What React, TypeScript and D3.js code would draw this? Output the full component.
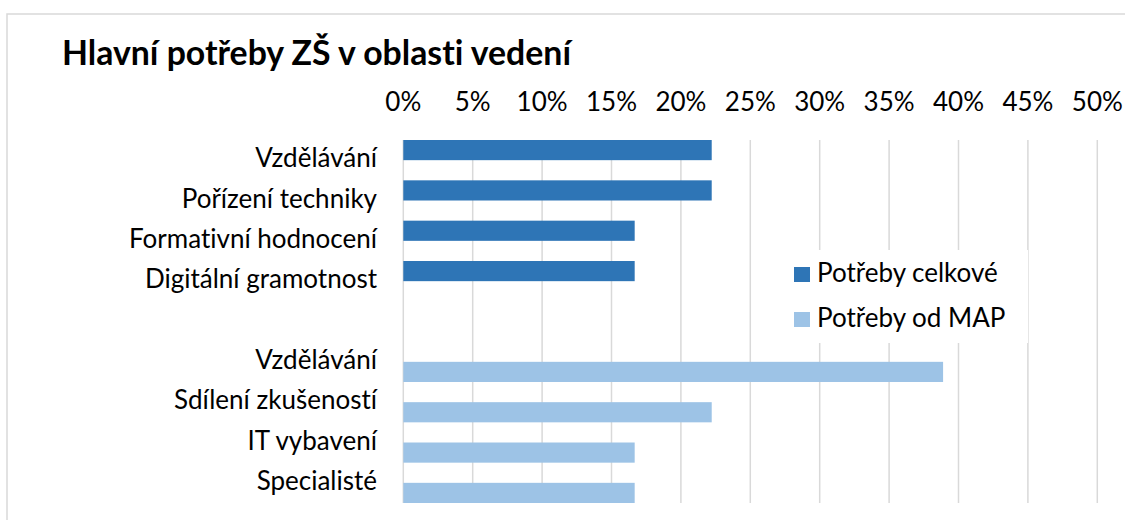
import React from "react";
import * as d3 from "d3";

const title = "Hlavní potřeby ZŠ v oblasti vedení";
const categories = [
  "Vzdělávání",
  "Pořízení techniky",
  "Formativní hodnocení",
  "Digitální gramotnost",
  "",
  "Vzdělávání",
  "Sdílení zkušeností",
  "IT vybavení",
  "Specialisté",
];
const seriesNames = ["Potřeby celkové", "Potřeby od MAP"];
const celkove = [0.2222, 0.2222, 0.1667, 0.1667, null, null, null, null, null];
const odMAP = [null, null, null, null, null, 0.3889, 0.2222, 0.1667, 0.1667];
const tickValues = [0, 0.05, 0.1, 0.15, 0.2, 0.25, 0.3, 0.35, 0.4, 0.45, 0.5];

const colors = ["#2E75B6", "#9DC3E6"];
const FONT = "Lato, 'Noto Sans', sans-serif";

export default function App() {
  const W = 1125;
  const H = 520;
  const x = d3.scaleLinear().domain([0, 0.5]).range([403.3, 1097.3]);
  const y = d3
    .scaleBand<number>()
    .domain(categories.map((_, i) => i))
    .range([140, 503])
    .paddingInner(0)
    .paddingOuter(0);
  const bw = y.bandwidth();
  const ySub = d3.scaleBand<number>().domain([0, 1]).range([0, bw]);
  const series = [celkove, odMAP];
  const fmt = d3.format(".0%");

  return (
    <svg
      width={W}
      height={H}
      style={{
        position: "absolute",
        left: 0,
        top: 0,
        background: "#fff",
        fontVariantLigatures: "none",
        fontFeatureSettings: '"liga" 0, "clig" 0',
      }}
      fontFamily={FONT}
    >
      <rect x={0} y={0} width={W} height={H} fill="#fff" />
      <rect
        x={7}
        y={14}
        width={1300}
        height={700}
        fill="#fff"
        stroke="#d9d9d9"
        strokeWidth={1.5}
      />
      <text x={62} y={65} fontSize={33.8} fontWeight={700} fill="#000">
        {title}
      </text>
      {/* gridlines */}
      {tickValues.map((t) => (
        <line
          key={"g" + t}
          x1={x(t)}
          x2={x(t)}
          y1={y.range()[0]}
          y2={y.range()[1]}
          stroke="#d9d9d9"
          strokeWidth={1.5}
        />
      ))}
      {/* tick labels */}
      {tickValues.map((t) => (
        <text
          key={"t" + t}
          x={x(t)}
          y={111}
          textAnchor="middle"
          fontSize={26}
          fill="#000"
        >
          {fmt(t)}
        </text>
      ))}
      {/* bars */}
      {series.map((s, si) =>
        s.map((v, i) =>
          v == null ? null : (
            <rect
              key={"b" + si + "-" + i}
              x={x(0)}
              y={(y(i) as number) + (ySub(si) as number)}
              width={x(v) - x(0)}
              height={ySub.bandwidth()}
              fill={colors[si]}
            />
          )
        )
      )}
      {/* category labels */}
      {categories.map((c, i) => (
        <text
          key={"c" + i}
          x={377}
          y={(y(i) as number) + bw / 2 + 7}
          textAnchor="end"
          fontSize={26}
          fill="#000"
        >
          {c}
        </text>
      ))}
      {/* legend */}
      <rect x={785} y={250} width={243} height={93} fill="#fff" />
      {seriesNames.map((n, i) => (
        <g key={"l" + i}>
          <rect x={794} y={267 + i * 45} width={16} height={15} fill={colors[i]} />
          <text x={817} y={282 + i * 45} fontSize={26} fill="#000">
            {n}
          </text>
        </g>
      ))}
    </svg>
  );
}
